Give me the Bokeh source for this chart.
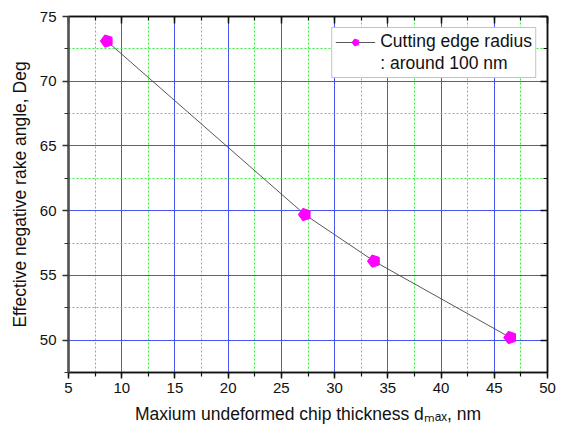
from bokeh.plotting import figure
from bokeh.models import (LinearAxis, SingleIntervalTicker, Range1d, Legend, LegendItem,
                          CustomJSTickFormatter)
from bokeh.embed import file_html
from bokeh.resources import INLINE

# data
chip_thickness = [8.6, 27.2, 33.7, 46.5]
rake_angle = [73.1, 59.7, 56.1, 50.2]
legend_line1 = "Cutting edge radius"
legend_line2 = ": around 100 nm"
x_label = "Maxium undeformed chip thickness d\u2098\u2090\u2093, nm"
y_label = "Effective negative rake angle, Deg"

FONT = "Liberation Sans"
INK = "#111111"

p = figure(width=562, height=430, output_backend="svg", toolbar_location=None,
           x_range=Range1d(5, 50), y_range=Range1d(47.5, 75),
           min_border_left=68, min_border_right=15, min_border_top=16, min_border_bottom=58)
p.background_fill_color = "white"
p.border_fill_color = "white"
p.outline_line_color = "#111111"
p.outline_line_width = 1.5

xt = SingleIntervalTicker(interval=5, num_minor_ticks=2)
yt = SingleIntervalTicker(interval=5, num_minor_ticks=2)

for ax, t in ((p.xaxis[0], xt), (p.yaxis[0], yt)):
    ax.ticker = t
    ax.major_tick_line_width = 1.5
    ax.minor_tick_line_width = 1.2
    ax.major_tick_out = 6
    ax.major_tick_in = 0
    ax.minor_tick_out = 4
    ax.minor_tick_in = 0
    ax.major_label_text_font = FONT
    ax.major_label_text_font_size = "15px"
    ax.major_label_text_color = INK
    ax.axis_label_text_font = FONT
    ax.axis_label_text_font_size = "17.5px"
    ax.axis_label_text_font_style = "normal"
    ax.axis_label_text_color = INK

p.xaxis.axis_line_color = "#111111"
p.xaxis.axis_line_width = 1.5
p.xaxis.major_tick_line_color = "#111111"
p.xaxis.minor_tick_line_color = "#111111"
p.yaxis.axis_line_color = "#555555"
p.yaxis.axis_line_width = 2.5
p.yaxis.major_tick_line_color = "#333333"
p.yaxis.minor_tick_line_color = "#333333"

p.xaxis.axis_label = x_label
p.yaxis.axis_label = y_label
p.xaxis.major_label_standoff = 4
p.xaxis.axis_label_standoff = 8
p.yaxis.major_label_standoff = 6
p.yaxis.axis_label_standoff = 7

blank = CustomJSTickFormatter(code="return ''")
for loc in ("above", "right"):
    ax = LinearAxis(ticker=SingleIntervalTicker(interval=5, num_minor_ticks=2),
                    formatter=blank, major_label_text_font_size="1px", major_label_standoff=0,
                    axis_line_color="#111111", axis_line_width=1.5,
                    major_tick_line_color="#111111", minor_tick_line_color="#111111",
                    major_tick_line_width=1.5, minor_tick_line_width=1.2,
                    major_tick_out=0, major_tick_in=7, minor_tick_out=0, minor_tick_in=4)
    p.add_layout(ax, loc)

for g in (p.xgrid[0], p.ygrid[0]):
    g.grid_line_color = "#3a3aff"
    g.grid_line_alpha = 0.85
    g.grid_line_width = 1
    g.minor_grid_line_color = "#22ee22"
    g.minor_grid_line_dash = "2 2"
    g.minor_grid_line_width = 1
    g.minor_grid_line_alpha = 0.9
p.xgrid[0].ticker = xt
p.ygrid[0].ticker = yt

ln = p.line(chip_thickness, rake_angle, line_color="#444444", line_width=0.9)
mk = p.ngon(chip_thickness, rake_angle, radius=6.5, radius_units="screen", n=5,
            angle=1.5708, fill_color="#ff00ff", line_color="#ff00ff")
ghost = p.line(chip_thickness, rake_angle, line_alpha=0)

legend = Legend(items=[LegendItem(label=legend_line1, renderers=[ln, mk]),
                       LegendItem(label=legend_line2, renderers=[ghost])],
                location="top_right", margin=11, padding=3,
                border_line_color="#888888", border_line_width=1.5,
                background_fill_color="white", background_fill_alpha=1,
                label_text_font=FONT, label_text_font_size="17.5px",
                label_text_color=INK, glyph_width=40, glyph_height=18, label_height=18,
                label_standoff=5, spacing=1)
p.add_layout(legend)

open("out.html", "w").write(file_html(p, INLINE))
